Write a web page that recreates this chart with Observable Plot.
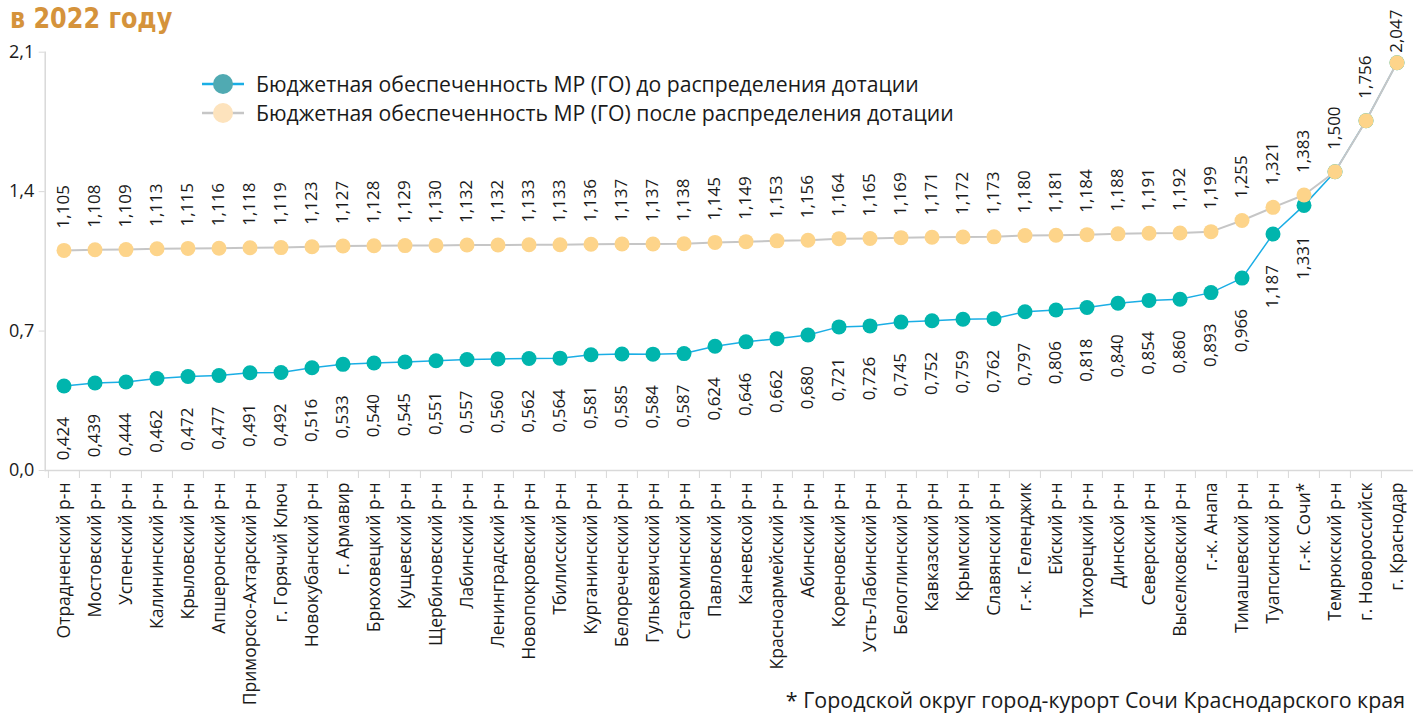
<!DOCTYPE html>
<html><head><meta charset="utf-8">
<script src="https://cdn.jsdelivr.net/npm/d3@7"></script>
<script src="https://cdn.jsdelivr.net/npm/@observablehq/plot@0.6"></script>
<style>
body{margin:0;background:#fff;overflow:hidden;font-family:"Open Sans",sans-serif;}
#wrap{position:relative;width:1413px;height:719px;overflow:hidden;}
#chart{position:absolute;left:0;top:0;}
#title{position:absolute;left:10px;top:2px;font-family:"DejaVu Sans Condensed","DejaVu Sans",sans-serif;font-stretch:condensed;font-weight:bold;font-size:28px;color:#d5933b;white-space:nowrap;transform:scaleX(0.95);transform-origin:left top;}
#legend{position:absolute;left:202px;top:69px;font-size:21.2px;color:#1a1a1a;}
#legend .row{display:flex;align-items:center;height:29px;white-space:nowrap;}
#legend svg{margin-right:12px;}
#note{position:absolute;right:8px;top:685px;font-size:21.4px;color:#1a1a1a;white-space:nowrap;}
</style></head><body>
<div id="wrap">
<div id="chart"></div>
<div id="title">в 2022 году</div>
<div id="legend"></div>
<div id="note">* Городской округ город-курорт Сочи Краснодарского края</div>
</div>
<script>
const categories = ["Отрадненский р-н","Мостовский р-н","Успенский р-н","Калининский р-н","Крыловский р-н","Апшеронский р-н","Приморско-Ахтарский р-н","г. Горячий Ключ","Новокубанский р-н","г. Армавир","Брюховецкий р-н","Кущевский р-н","Щербиновский р-н","Лабинский р-н","Ленинградский р-н","Новопокровский р-н","Тбилисский р-н","Курганинский р-н","Белореченский р-н","Гулькевичский р-н","Староминский р-н","Павловский р-н","Каневской р-н","Красноармейский р-н","Абинский р-н","Кореновский р-н","Усть-Лабинский р-н","Белоглинский р-н","Кавказский р-н","Крымский р-н","Славянский р-н","г.-к. Геленджик","Ейский р-н","Тихорецкий р-н","Динской р-н","Северский р-н","Выселковский р-н","г.-к. Анапа","Тимашевский р-н","Туапсинский р-н","г.-к. Сочи*","Темрюкский р-н","г. Новороссийск","г. Краснодар"];
const before = [0.424,0.439,0.444,0.462,0.472,0.477,0.491,0.492,0.516,0.533,0.540,0.545,0.551,0.557,0.560,0.562,0.564,0.581,0.585,0.584,0.587,0.624,0.646,0.662,0.680,0.721,0.726,0.745,0.752,0.759,0.762,0.797,0.806,0.818,0.840,0.854,0.860,0.893,0.966,1.187,1.331,1.500,1.756,2.047];
const after = [1.105,1.108,1.109,1.113,1.115,1.116,1.118,1.119,1.123,1.127,1.128,1.129,1.130,1.132,1.132,1.133,1.133,1.136,1.137,1.137,1.138,1.145,1.149,1.153,1.156,1.164,1.165,1.169,1.171,1.172,1.173,1.180,1.181,1.184,1.188,1.191,1.192,1.199,1.255,1.321,1.383,1.500,1.756,2.047];
const yTicks = [0, 0.7, 1.4, 2.1];
const seriesNames = ["Бюджетная обеспеченность МР (ГО) до распределения дотации","Бюджетная обеспеченность МР (ГО) после распределения дотации"];

const C = {tealDot:"#00b5ad", tealLine:"#1aaee5", peachDot:"#fdd48a", grayLine:"#c6c6c6", axis:"#d9d9d9", text:"#1a1a1a", legTeal:"#50aab2", legPeach:"#fde3bd"};

const data = categories.map((c, i) => ({name: c, before: before[i], after: after[i], i}));
const fmt3 = v => v.toFixed(3).replace(".", ",");
const fmt1 = v => v.toFixed(1).replace(".", ",");
const xRange = [44.7, 1415];
const step = (xRange[1] - xRange[0]) / categories.length;
const last = data.length - 1;

const chart = Plot.plot({
  width: 1413,
  height: 719,
  marginTop: 51.7,
  marginBottom: 249,
  marginLeft: 44.7,
  marginRight: 0,
  style: {fontFamily: "'Open Sans', sans-serif", fontSize: "17px", color: C.text, background: "transparent"},
  x: {type: "band", domain: categories, range: xRange, padding: 0, axis: null},
  y: {domain: [0, 2.1], axis: null},
  marks: [
    Plot.ruleY([0], {stroke: C.axis, strokeWidth: 1.5}),
    Plot.frame({anchor: "left", stroke: C.axis, strokeWidth: 1.5}),
    Plot.axisY({ticks: yTicks, tickFormat: fmt1, tickSize: 6, tickPadding: 5, stroke: C.axis, fill: C.text, fontSize: 18, label: null}),
    Plot.axisX({tickSize: 8, tickFormat: () => "", dx: -step / 2, stroke: C.axis, label: null}),
    Plot.axisX({tickRotate: -90, tickSize: 0, tickPadding: 12, fill: C.text, fontSize: 17.5, label: null}),
    Plot.line(data, {x: "name", y: "before", stroke: C.tealLine, strokeWidth: 1.5}),
    Plot.dot(data, {x: "name", y: "before", r: 7.5, fill: C.tealDot}),
    Plot.line(data, {x: "name", y: "after", stroke: C.grayLine, strokeWidth: 2}),
    Plot.dot(data, {x: "name", y: "after", r: 7.5, fill: C.peachDot}),
    Plot.text(data.filter(d => d.before !== d.after), {x: "name", y: "before", text: d => fmt3(d.before), rotate: -90, textAnchor: "end", dy: 31, fill: C.text, fontSize: 17}),
    Plot.text(data.filter(d => d.i !== last), {x: "name", y: "after", text: d => fmt3(d.after), rotate: -90, textAnchor: "start", dy: -22, fill: C.text, fontSize: 17}),
    Plot.text(data.filter(d => d.i === last), {x: "name", y: "after", text: d => fmt3(d.after), rotate: -90, textAnchor: "start", dy: -10, fill: C.text, fontSize: 17})
  ]
});
document.getElementById("chart").appendChild(chart);

const legend = document.getElementById("legend");
const legItems = [
  {name: seriesNames[0], line: C.tealLine, dot: C.legTeal},
  {name: seriesNames[1], line: C.grayLine, dot: C.legPeach}
];
legItems.forEach(it => {
  const row = document.createElement("div");
  row.className = "row";
  row.innerHTML = `<svg width="42" height="22"><line x1="0" x2="42" y1="11" y2="11" stroke="${it.line}" stroke-width="2.5"/><circle cx="21" cy="11" r="10" fill="${it.dot}"/></svg><span>${it.name}</span>`;
  legend.appendChild(row);
});
</script>
</body></html>
